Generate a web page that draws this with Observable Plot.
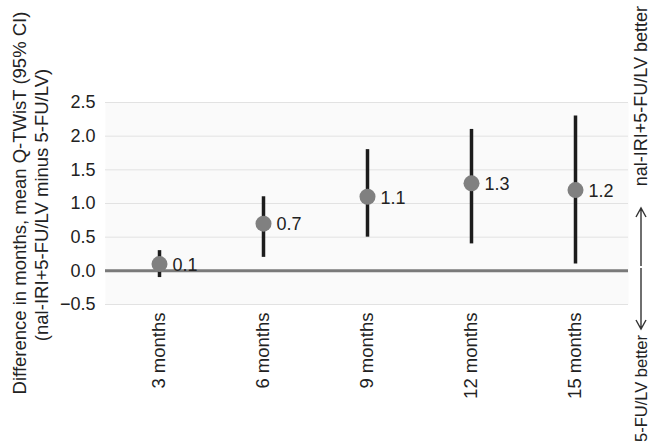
<!DOCTYPE html>
<html>
<head>
<meta charset="utf-8">
<script src="https://cdn.jsdelivr.net/npm/d3@7"></script>
<script src="https://cdn.jsdelivr.net/npm/@observablehq/plot@0.6"></script>
<style>
  html, body { margin: 0; padding: 0; background: #fff; }
  #chart { width: 652px; height: 444px; overflow: hidden; }
  svg { display: block; }
</style>
</head>
<body>
<div id="chart"></div>
<script>
// Data
const timepoints = ["3 months", "6 months", "9 months", "12 months", "15 months"];
const meanDiff   = [0.1, 0.7, 1.1, 1.3, 1.2];
const ciLow      = [-0.1, 0.2, 0.5, 0.4, 0.1];
const ciHigh     = [0.3, 1.1, 1.8, 2.1, 2.3];
const yTicks     = [-0.5, 0, 0.5, 1.0, 1.5, 2.0, 2.5];

const yTitle1 = "Difference in months, mean Q-TWisT (95% CI)";
const yTitle2 = "(nal-IRI+5-FU/LV minus 5-FU/LV)";
const upLabel = "nal-IRI+5-FU/LV better";
const downLabel = "5-FU/LV better";

const data = timepoints.map((t, i) => ({t, mean: meanDiff[i], lo: ciLow[i], hi: ciHigh[i]}));

const W = 652, H = 444;
const mL = 105, mR = 24, mT = 102, mB = 140;
const FONT = "'Liberation Sans', Arial, Helvetica, sans-serif";
const fmt = v => (v < 0 ? "\u2212" : "") + Math.abs(v).toFixed(1);

const plot = Plot.plot({
  width: W,
  height: H,
  marginLeft: mL,
  marginRight: mR,
  marginTop: mT,
  marginBottom: mB,
  style: {fontFamily: FONT, fontSize: "18px", color: "#222", background: "#fff"},
  x: {type: "point", domain: timepoints, padding: 0.5, label: null},
  y: {domain: [-0.5, 2.5], label: null},
  marks: [
    Plot.frame({fill: "#fafafa", stroke: null}),
    Plot.gridY(yTicks, {stroke: "#e2e2e2", strokeOpacity: 1, strokeWidth: 1}),
    Plot.ruleY([0], {stroke: "#7a7a7a", strokeWidth: 3}),
    Plot.axisY(yTicks, {tickSize: 0, tickPadding: 10, tickFormat: fmt, label: null, fontSize: 18, fill: "#222"}),
    Plot.axisX(timepoints, {tickSize: 0, tickPadding: 8, tickRotate: -90, label: null, fontSize: 18.5, fill: "#222"}),
    Plot.ruleX(data, {x: "t", y1: "lo", y2: "hi", stroke: "#1c1c1c", strokeWidth: 3.5}),
    Plot.dot(data, {x: "t", y: "mean", r: 8, fill: "#808080", stroke: null}),
    Plot.text(data, {x: "t", y: "mean", text: d => d.mean.toFixed(1), dx: 13, dy: 1, textAnchor: "start", fontSize: 18, fill: "#222"})
  ]
});

document.getElementById("chart").appendChild(plot);

const svg = d3.select(plot);
const cy = mT + (H - mT - mB) / 2;

// y-axis title (two lines, rotated)
const ytitle = svg.append("g")
  .attr("font-family", FONT)
  .attr("font-size", 18.5)
  .attr("fill", "#222")
  .attr("text-anchor", "middle");
ytitle.append("text")
  .attr("transform", `translate(20,${cy}) rotate(-90)`)
  .attr("dy", "0.35em")
  .text(yTitle1);
ytitle.append("text")
  .attr("transform", `translate(42,${cy + 2}) rotate(-90)`)
  .attr("dy", "0.35em")
  .text(yTitle2);

// right-side annotation with arrows
const ax = 641;
const ann = svg.append("g")
  .attr("font-family", FONT)
  .attr("fill", "#222");
ann.append("text")
  .attr("transform", `translate(${ax},6) rotate(-90)`)
  .attr("text-anchor", "end")
  .attr("dy", "0.35em")
  .attr("font-size", 18)
  .text(upLabel);
ann.append("text")
  .attr("transform", `translate(${ax},335) rotate(-90)`)
  .attr("text-anchor", "end")
  .attr("dy", "0.35em")
  .attr("font-size", 16.5)
  .text(downLabel);

const arr = svg.append("g")
  .attr("stroke", "#333")
  .attr("stroke-width", 1.4)
  .attr("fill", "none");
arr.append("path").attr("d", `M${ax},266 V208 M${ax - 5},217 L${ax},208 L${ax + 5},217`);
arr.append("path").attr("d", `M${ax},268 V329 M${ax - 5},320 L${ax},329 L${ax + 5},320`);
</script>
</body>
</html>
